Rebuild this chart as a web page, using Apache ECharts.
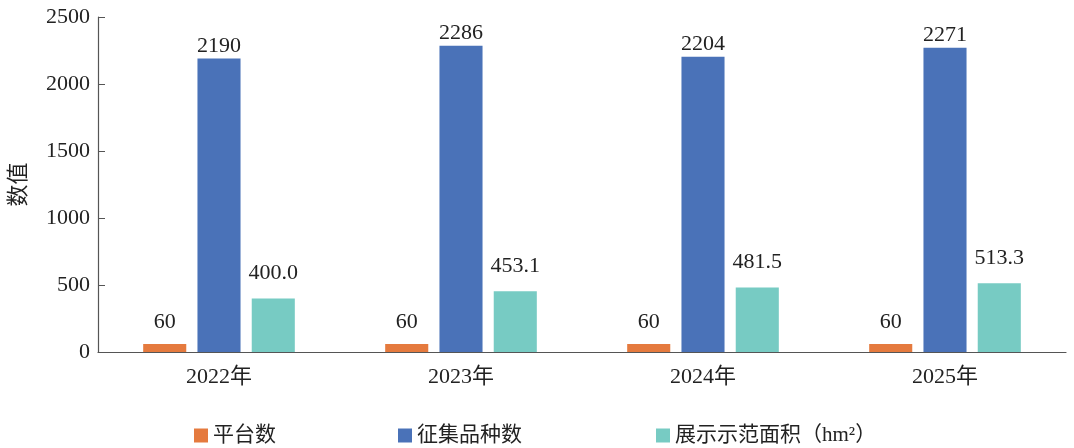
<!DOCTYPE html>
<html>
<head>
<meta charset="utf-8">
<script src="https://cdn.jsdelivr.net/npm/echarts@6/dist/echarts.min.js"></script>
<style>html,body{margin:0;padding:0;background:#fff}#c{width:1074px;height:448px}</style>
</head>
<body>
<div id="c"></div>
<script>
var categories = ['2022年', '2023年', '2024年', '2025年'];
var seriesNames = ['平台数', '征集品种数', '展示示范面积（hm²）'];
var platformCount = [60, 60, 60, 60];
var varietyCount = [2190, 2286, 2204, 2271];
var demoArea = [400.0, 453.1, 481.5, 513.3];
var yTicks = [0, 500, 1000, 1500, 2000, 2500];

var FONT = '"Liberation Serif", "Times New Roman", "Noto Sans CJK SC", serif';
var colors = ['#E57A3E', '#4A72B8', '#77CBC3'];
var chart = echarts.init(document.getElementById('c'));

function mkSeries(i, data, dist, fmt) {
  return {
    name: seriesNames[i],
    type: 'bar',
    data: data,
    barWidth: '17.8%',
    barGap: '26%',
    barCategoryGap: '37%',
    itemStyle: { color: colors[i] },
    label: {
      show: true, position: 'top', distance: dist,
      color: '#222', fontFamily: FONT, fontSize: 22,
      formatter: fmt
    }
  };
}

var legendBase = {
  top: 420,
  itemWidth: 14, itemHeight: 14, itemGap: 122,
  icon: 'rect',
  textStyle: { fontFamily: FONT, fontSize: 21, color: '#222' }
};

chart.setOption({
  animation: false,
  textStyle: { fontFamily: FONT },
  grid: { left: 98, right: 8, top: 17, bottom: 96, containLabel: false },
  legend: [
    Object.assign({}, legendBase, { left: 189, data: seriesNames.slice(0, 2) }),
    Object.assign({}, legendBase, { left: 651, data: seriesNames.slice(2) })
  ],
  xAxis: {
    type: 'category',
    data: categories,
    axisLine: { lineStyle: { color: '#555', width: 1.2 } },
    axisTick: { show: false },
    axisLabel: { color: '#222', fontFamily: FONT, fontSize: 22, margin: 14 }
  },
  yAxis: {
    type: 'value',
    min: yTicks[0], max: yTicks[yTicks.length - 1], interval: 500,
    name: '数值', nameLocation: 'middle', nameGap: 68, nameRotate: 90,
    nameTextStyle: { fontFamily: FONT, fontSize: 22, color: '#222' },
    axisLine: { show: true, lineStyle: { color: '#555', width: 1.2 } },
    axisTick: { show: true, inside: true, length: 7, lineStyle: { color: '#555' } },
    axisLabel: { color: '#222', fontFamily: FONT, fontSize: 22, margin: 8,
      formatter: function (v) { return String(v); } },
    splitLine: { show: false }
  },
  series: [
    mkSeries(0, platformCount, 11, function (p) { return String(p.value); }),
    mkSeries(1, varietyCount, 1, function (p) { return String(p.value); }),
    mkSeries(2, demoArea, 14, function (p) { return Number(p.value).toFixed(1); })
  ]
});
</script>
</body>
</html>
